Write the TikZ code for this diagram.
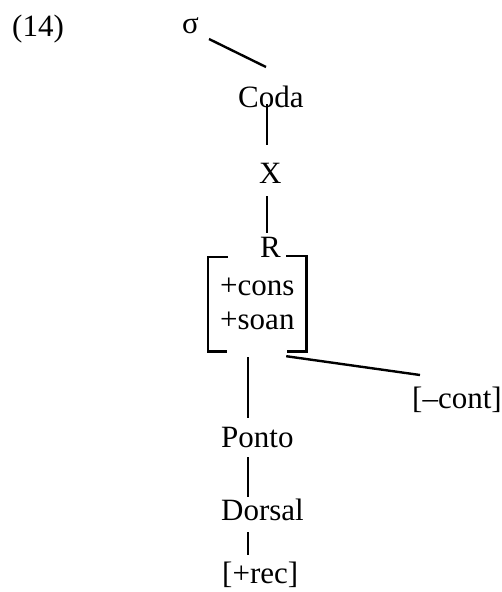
\documentclass[tikz,border=0pt]{standalone}
\usepackage{fontspec}
\setmainfont{Liberation Serif}
\usetikzlibrary{calc}
\begin{document}
\begin{tikzpicture}[x=1pt,y=-1pt,
  lbl/.style={inner sep=0pt,anchor=base west,font=\fontsize{31}{36}\selectfont},
  link/.style={line width=2.4pt},
  brk/.style={line width=2.6pt}]
\useasboundingbox (0,0) rectangle (502,592);

% labels
\node[lbl] (num)    at (12,36)   {(14)};
\node[lbl] (sigma)  at (182,33)  {σ};
\node[lbl] (coda)   at (238,107) {Coda};
\node[lbl] (xn)     at (259,183) {X};
\node[lbl] (r)      at (260,257) {R};
\node[lbl] (cons)   at (220,295) {+cons};
\node[lbl] (soan)   at (220,329) {+soan};
\node[lbl] (cont)   at (412,408) {[–cont]};
\node[lbl] (ponto)  at (221,447) {Ponto};
\node[lbl] (dorsal) at (221,520) {Dorsal};
\node[lbl] (rec)    at (222,583) {[+rec]};

% feature matrix frame
\node[inner sep=0pt,minimum width=98pt,minimum height=94pt] (fm) at (257,304) {};
\draw[brk] ($(fm.north west)+(20,0)$) -- (fm.north west) -- (fm.south west) -- ++(19,0);
\draw[brk] ($(fm.north east)+(-20,-1)$) -- ++(20,0) -- (fm.south east) -- ++(-19,0);

% tree links
\draw[link] ($(sigma.base west)+(27,6)$) -- ($(coda.base west)+(28,-40)$);
\draw[link] ($(coda.base west)+(29,-3)$) -- ($(xn.base west)+(8,-38)$);
\draw[link] ($(xn.base west)+(8,13)$) -- ($(r.base west)+(7,-24)$);
\draw[link] ($(fm.south)+(-9,6)$) -- ($(ponto.base west)+(27,-29)$);
\draw[link] ($(fm.south east)+(-20,5)$) -- ($(cont.base west)+(8,-33)$);
\draw[link] ($(ponto.base west)+(27,10)$) -- ($(dorsal.base west)+(27,-23)$);
\draw[link] ($(dorsal.base west)+(27,12)$) -- ($(rec.base west)+(26,-28)$);
\end{tikzpicture}
\end{document}
